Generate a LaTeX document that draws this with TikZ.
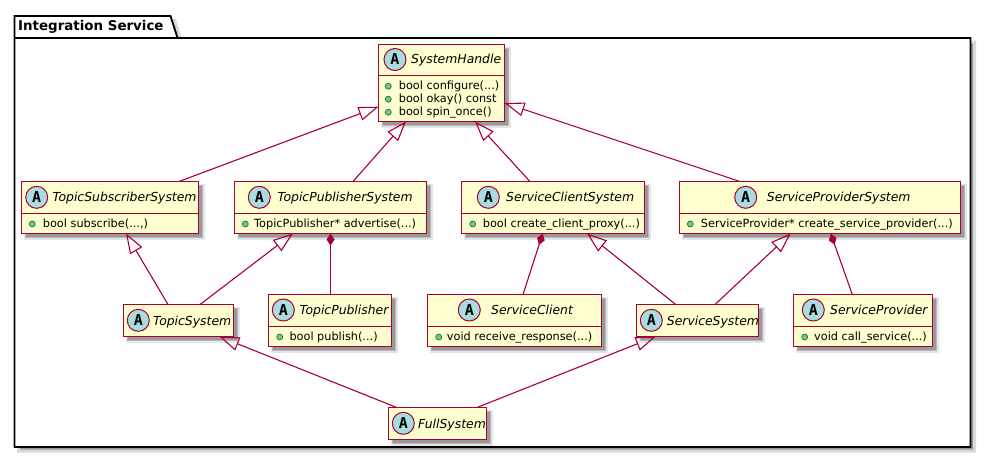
\documentclass[tikz,border=0pt]{standalone}
\usepackage{fontspec}
\setmainfont{DejaVu Sans}
\newfontfamily\spotfont{DejaVu Sans Mono}
\usetikzlibrary{arrows.meta,calc}
\definecolor{umlred}{HTML}{A80036}
\definecolor{umlfill}{HTML}{FEFECE}
\definecolor{umlspot}{HTML}{A9DCDF}
\definecolor{umlgreen}{HTML}{84BE84}
\definecolor{umlgreenedge}{HTML}{038048}
\tikzset{
  softshadow/.style={
    preaction={draw=black!10,line width=4pt,fill=black!40,transform canvas={shift={(4pt,-4pt)}}},
    preaction={draw=black!28,line width=1.8pt,fill=black!40,transform canvas={shift={(4pt,-4pt)}}}},
  umlbox/.style={draw=umlred,fill=umlfill,line width=1.8pt,rectangle,inner sep=0pt,outer sep=0pt,anchor=north west,softshadow},
  divider/.style={draw=umlred,line width=1.1pt},
  spot/.style={circle,draw=umlred,fill=umlspot,line width=1pt,minimum size=22pt,inner sep=0pt,font=\spotfont\bfseries\fontsize{15}{15}\selectfont},
  titletext/.style={anchor=base west,inner sep=0pt,font=\itshape\fontsize{12.4}{14}\selectfont},
  membertext/.style={anchor=base west,inner sep=0pt,font=\fontsize{11.3}{12}\selectfont},
  bullet/.style={circle,draw=umlgreenedge,fill=umlgreen,line width=.7pt,minimum size=6pt,inner sep=0pt},
  inherit/.style={draw=umlred,line width=1.1pt,-{Triangle[open,length=20pt,width=14pt]}},
  compose/.style={draw=umlred,line width=1.1pt,{Diamond[length=12pt,width=8pt,fill=umlred]}-},
}
\newcommand{\umlBox}[5]{\node[umlbox,minimum width={#4-#2},minimum height={#5-#3}] (#1) at (#2,#3) {};}
\newcommand{\umlHead}[6]{%
  \node[spot] (#1-spot) at (#2,#3) {A};
  \node[titletext] (#1-title) at (#4,#5) {#6};}
\newcommand{\umlDiv}[2]{\draw[divider] ($(#1.north west |- 0,#2)$) -- ($(#1.north east |- 0,#2)$);}
\newcommand{\umlMember}[5]{%
  \node[bullet] (#1-b) at (#2,#3-3.3) {};
  \node[membertext] (#1-t) at (#4,#3) {#5};}
\begin{document}
\begin{tikzpicture}[x=1pt,y=-1pt]
\useasboundingbox (0,0) rectangle (990,458);
% package
\path[fill=black!40,draw=black!15,line width=3pt,transform canvas={shift={(4pt,-4pt)}}]
  (14.5,38) -- (14.5,16) -- (170.5,16) -- (177.5,38) -- (970.5,38) -- (970.5,447) -- (14.5,447) -- cycle;
\draw[black,line width=1.8pt,fill=white,line join=miter]
  (14.5,38) -- (14.5,16) -- (170.5,16) -- (177.5,38) -- (970.5,38) -- (970.5,447) -- (14.5,447) -- cycle;
\draw[black,line width=1.8pt] (14.5,38) -- (177.5,38);
\node[anchor=base west,inner sep=0pt,font=\bfseries\fontsize{13.4}{14}\selectfont] (pkg) at (18,30.7) {Integration Service};
% classes
\umlBox{sh}{378.5}{44.5}{504.5}{121.5}
\umlHead{sh}{395}{59.5}{411}{63}{SystemHandle}
\umlDiv{sh}{75.5}
\umlMember{sh1}{388.3}{89.5}{398.7}{bool configure(...)}
\umlMember{sh2}{388.3}{102.5}{398.7}{bool okay() const}
\umlMember{sh3}{388.3}{115.5}{398.7}{bool spin\_once()}

\umlBox{tss}{21.5}{181.5}{198.5}{233.5}
\umlHead{tss}{36.7}{197.3}{52.3}{201}{TopicSubscriberSystem}
\umlDiv{tss}{213.5}
\umlMember{tss1}{32.3}{227.3}{42.7}{bool subscribe(...,)}

\umlBox{tps}{234.5}{181.5}{426.5}{233.5}
\umlHead{tps}{259.3}{197.3}{277.3}{201}{TopicPublisherSystem}
\umlDiv{tps}{213.5}
\umlMember{tps1}{245.3}{227.3}{254}{TopicPublisher* advertise(...)}

\umlBox{scs}{461.5}{181.5}{644.5}{233.5}
\umlHead{scs}{488.3}{197.3}{506}{201}{ServiceClientSystem}
\umlDiv{scs}{213.5}
\umlMember{scs1}{472.7}{227.3}{482.7}{bool create\_client\_proxy(...)}

\umlBox{sps}{679.5}{181.5}{960.5}{233.5}
\umlHead{sps}{745.7}{197.3}{766.7}{201}{ServiceProviderSystem}
\umlDiv{sps}{213.5}
\umlMember{sps1}{690.3}{227.3}{700.7}{ServiceProvider* create\_service\_provider(...)}

\umlBox{ts}{123.5}{304.5}{233.5}{336.5}
\umlHead{ts}{138.3}{320.3}{153}{325}{TopicSystem}

\umlBox{tp}{268.5}{294.5}{391.5}{346.5}
\umlHead{tp}{283.3}{310}{299.3}{314}{TopicPublisher}
\umlDiv{tp}{326.5}
\umlMember{tp1}{279.7}{340.3}{289.3}{bool publish(...)}

\umlBox{sc}{427.5}{294.5}{601.5}{346.5}
\umlHead{sc}{469.3}{310}{491}{314}{ServiceClient}
\umlDiv{sc}{326.5}
\umlMember{sc1}{438.7}{340.3}{446.7}{void receive\_response(...)}

\umlBox{ss}{636.5}{304.5}{758.5}{336.5}
\umlHead{ss}{651.3}{320.3}{666.7}{325}{ServiceSystem}

\umlBox{sp}{793.5}{294.5}{932.5}{346.5}
\umlHead{sp}{813.3}{310}{830}{314}{ServiceProvider}
\umlDiv{sp}{326.5}
\umlMember{sp1}{804.7}{340.3}{814}{void call\_service(...)}

\umlBox{fs}{388.5}{407.5}{486.5}{439.5}
\umlHead{fs}{403.3}{423.3}{418}{428}{FullSystem}

% connectors (offsets in px from the named box corners)
\draw[inherit] ($(tss.north west)+(157.5,0)$) -- ($(sh.north west)+(0,62.2)$);
\draw[inherit] ($(tps.north west)+(118.5,0)$) -- ($(sh.south west)+(27.5,0)$);
\draw[inherit] ($(scs.north west)+(68.5,0)$) -- ($(sh.south west)+(96.5,0)$);
\draw[inherit] ($(sps.north west)+(60.5,0)$) -- ($(sh.north east)+(0,58.5)$);
\draw[inherit] ($(ts.north west)+(44.5,0)$) -- ($(tss.south west)+(104.5,0)$);
\draw[inherit] ($(ts.north west)+(76.5,0)$) -- ($(tps.south west)+(58.5,0)$);
\draw[compose] ($(tps.south west)+(96,0)$) -- ($(tp.north west)+(62,0)$);
\draw[compose] ($(scs.south west)+(81.2,0)$) -- ($(sc.north west)+(95.5,0)$);
\draw[inherit] ($(ss.north west)+(39.2,0)$) -- ($(scs.south west)+(125.5,0)$);
\draw[inherit] ($(ss.north west)+(78.5,0)$) -- ($(sps.south west)+(111.2,0)$);
\draw[compose] ($(sps.south west)+(151.2,0)$) -- ($(sp.north west)+(58.8,0)$);
\draw[inherit] ($(fs.north west)+(8.2,0)$) -- ($(ts.south west)+(95.8,0)$);
\draw[inherit] ($(fs.north west)+(88.5,0)$) -- ($(ss.south west)+(19.2,0)$);
\end{tikzpicture}
\end{document}
